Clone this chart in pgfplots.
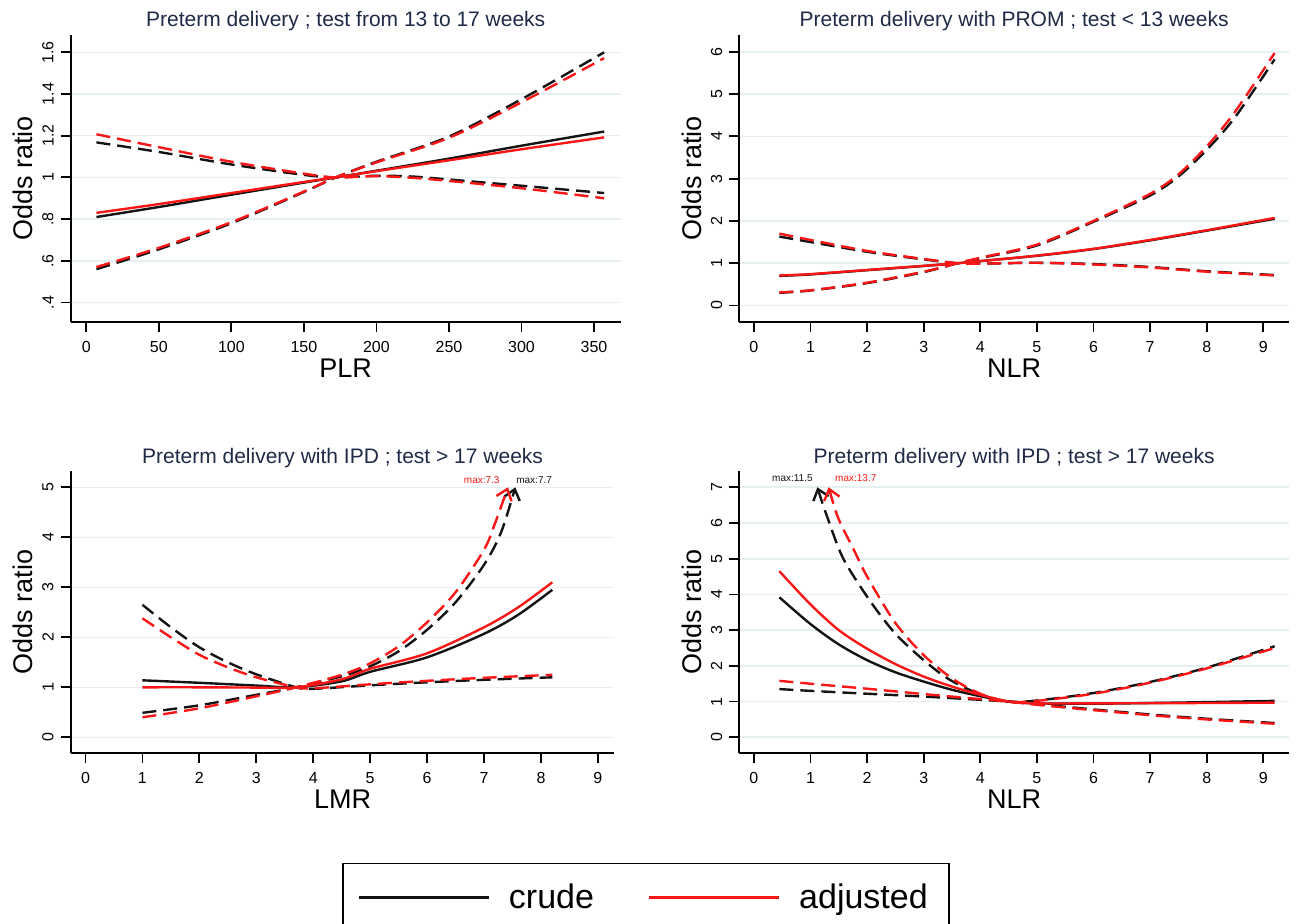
\documentclass[border=0pt]{standalone}
\usepackage{fontspec}
\setmainfont{Liberation Sans}
\usepackage{pgfplots}
\pgfplotsset{compat=1.18}
\usetikzlibrary{arrows.meta}

\definecolor{cblack}{RGB}{20,20,20}
\definecolor{cred}{RGB}{250,22,22}
\definecolor{gridc}{RGB}{230,239,241}
\definecolor{titlec}{RGB}{30,42,70}

\pgfplotsset{
  orpanel/.style={
    scale only axis,
    anchor=south west,
    axis lines=left,
    axis line style={-, line width=0.9pt, black},
    tick align=outside,
    major tick length=5pt,
    tick style={line width=0.9pt, black},
    ymajorgrids,
    grid style={gridc, line width=0.8pt},
    tick label style={font=\fontsize{8}{9.6}\selectfont},
    /pgf/number format/assume math mode=true,
    yticklabel style={rotate=90, anchor=south},
    xticklabel style={anchor=north, yshift=-1pt},
    title style={font=\fontsize{10.5}{12.6}\selectfont, text=titlec, at={(0.5,1)}, anchor=base, yshift=-2pt},
    every axis x label/.style={at={(axis description cs:0.5,0)}, anchor=base, yshift=-27.5pt, font=\fontsize{13.5}{16}\selectfont},
    every axis y label/.style={at={([xshift=-19pt]axis description cs:0,0.5)}, anchor=base, rotate=90, font=\fontsize{13.5}{16}\selectfont},
    ylabel={Odds ratio},
    clip=false,
  },
  crudeline/.style={cblack, line width=1.2pt, smooth, forget plot},
  adjline/.style={cred, line width=1.2pt, smooth, forget plot},
  ci/.style={dash pattern=on 7pt off 3.5pt},
}

\begin{document}
\begin{tikzpicture}
\useasboundingbox (0,0) rectangle (649.5pt,461.5pt);

% top left: PLR
\begin{axis}[orpanel, at={(35.35pt,300.35pt)}, width=275pt, height=143.65pt,
  xmin=-10.75, xmax=368.4, ymin=0.305, ymax=1.683,
  xtick={0,50,100,150,200,250,300,350},
  ytick={0.4,0.6,0.8,1,1.2,1.4,1.6}, yticklabels={.4,.6,.8,1,1.2,1.4,1.6},
  title={Preterm delivery ; test from 13 to 17 weeks}, xlabel={PLR}]
  \addplot[crudeline] coordinates {(7,0.81) (50,0.858) (100,0.917) (150,0.975) (172,1.0) (200,1.032) (250,1.09) (300,1.152) (357,1.22)};
  \addplot[crudeline, ci] coordinates {(7,1.168) (50,1.122) (100,1.062) (150,1.012) (172,1.0) (200,1.008) (225,1.004) (250,0.99) (300,0.96) (357,0.925)};
  \addplot[crudeline, ci] coordinates {(7,0.56) (50,0.655) (100,0.78) (150,0.93) (172,1.0) (200,1.075) (250,1.196) (300,1.375) (357,1.60)};
  \addplot[adjline] coordinates {(7,0.83) (50,0.872) (100,0.925) (150,0.978) (172,1.0) (200,1.03) (250,1.082) (300,1.135) (357,1.192)};
  \addplot[adjline, ci] coordinates {(7,1.207) (50,1.145) (100,1.075) (150,1.018) (172,1.0) (200,1.006) (225,0.998) (250,0.983) (300,0.948) (357,0.90)};
  \addplot[adjline, ci] coordinates {(7,0.57) (50,0.662) (100,0.785) (150,0.932) (172,1.0) (200,1.072) (250,1.19) (300,1.36) (357,1.572)};
\end{axis}

% top right: NLR
\begin{axis}[orpanel, at={(369.65pt,300.35pt)}, width=274.85pt, height=143.65pt,
  xmin=-0.258, xmax=9.454, ymin=-0.397, ymax=6.395,
  xtick={0,1,2,3,4,5,6,7,8,9}, ytick={0,1,2,3,4,5,6},
  title={Preterm delivery with PROM ; test < 13 weeks}, xlabel={NLR}]
  \addplot[crudeline] coordinates {(0.45,0.70) (1,0.735) (2,0.835) (3,0.935) (3.6,1.0) (4,1.05) (5,1.175) (6,1.335) (7,1.54) (8,1.77) (9.2,2.05)};
  \addplot[crudeline, ci] coordinates {(0.45,1.63) (1,1.50) (2,1.27) (3,1.09) (3.6,1.0) (4,0.99) (5,1.01) (6,0.98) (7,0.91) (8,0.81) (9.2,0.72)};
  \addplot[crudeline, ci] coordinates {(0.45,0.30) (1,0.355) (2,0.53) (3,0.79) (3.6,1.0) (4,1.12) (5,1.42) (6,1.98) (7,2.6) (7.5,3.05) (8,3.68) (8.5,4.45) (9.2,5.82)};
  \addplot[adjline] coordinates {(0.45,0.71) (1,0.742) (2,0.84) (3,0.938) (3.6,1.0) (4,1.05) (5,1.18) (6,1.34) (7,1.55) (8,1.78) (9.2,2.07)};
  \addplot[adjline, ci] coordinates {(0.45,1.70) (1,1.55) (2,1.29) (3,1.10) (3.6,1.0) (4,0.99) (5,1.01) (6,0.97) (7,0.90) (8,0.80) (9.2,0.71)};
  \addplot[adjline, ci] coordinates {(0.45,0.31) (1,0.36) (2,0.54) (3,0.80) (3.6,1.0) (4,1.13) (5,1.44) (6,2.0) (7,2.64) (7.5,3.1) (8,3.76) (8.5,4.58) (9.2,5.97)};
\end{axis}

% bottom left: LMR
\begin{axis}[orpanel, at={(35.35pt,85pt)}, width=271.85pt, height=141pt,
  xmin=-0.26, xmax=9.29, ymin=-0.314, ymax=5.326,
  xtick={0,1,2,3,4,5,6,7,8,9}, ytick={0,1,2,3,4,5},
  title={Preterm delivery with IPD ; test > 17 weeks}, xlabel={LMR},
  legend columns=2,
  legend style={at={(0.499,-0.390)}, anchor=north west, draw=black, line width=0.75pt,
    font=\fontsize{17}{20}\selectfont, inner xsep=7.5pt, inner ysep=8pt,
    column sep=0pt, nodes={inner xsep=0pt}},
  legend image code/.code={\path[draw=none] (0pt,0pt) -- (75pt,0pt); \draw[#1] (0pt,0pt) -- (65pt,0pt);}]
  \addplot[crudeline] coordinates {(1,1.14) (2,1.09) (3,1.035) (3.7,1.0) (4.5,1.12) (5,1.31) (6,1.6) (7,2.07) (7.6,2.45) (8.2,2.95)};
  \addplot[crudeline, ci] coordinates {(1,2.65) (1.5,2.2) (2,1.8) (2.5,1.5) (3,1.26) (3.7,1.0) (4,0.97) (5,1.04) (6,1.1) (7,1.15) (8.2,1.20)};
  \addplot[crudeline, ci, -{Straight Barb[length=5pt,width=8pt]}] coordinates {(1,0.49) (2,0.64) (3,0.85) (3.7,1.0) (4.5,1.22) (5,1.42) (5.5,1.72) (6,2.15) (6.5,2.7) (7,3.45) (7.3,4.1) (7.55,5.0)};
  \addplot[adjline] coordinates {(1,1.0) (2,1.0) (3,0.995) (3.7,1.0) (4.5,1.16) (5,1.37) (6,1.68) (7,2.2) (7.6,2.6) (8.2,3.10)};
  \addplot[adjline, ci] coordinates {(1,2.38) (1.5,2.0) (2,1.65) (2.5,1.4) (3,1.2) (3.7,1.0) (4,0.98) (5,1.06) (6,1.13) (7,1.19) (8.2,1.25)};
  \addplot[adjline, ci, -{Straight Barb[length=5pt,width=8pt]}] coordinates {(1,0.40) (2,0.58) (3,0.82) (3.7,1.0) (4.5,1.25) (5,1.48) (5.5,1.82) (6,2.3) (6.5,2.9) (7,3.75) (7.2,4.3) (7.42,5.0)};
  \node[font=\fontsize{5}{6}\selectfont, text=cred] at (axis cs:6.96,5.14) {max:7.3};
  \node[font=\fontsize{5}{6}\selectfont, text=cblack] at (axis cs:7.88,5.14) {max:7.7};
  \addlegendimage{cblack, line width=1.2pt}
  \addlegendentry{crude\hspace*{27pt}}
  \addlegendimage{cred, line width=1.2pt}
  \addlegendentry{adjusted\hspace*{3pt}}
\end{axis}

% bottom right: NLR
\begin{axis}[orpanel, at={(369.65pt,85pt)}, width=274.85pt, height=141pt,
  xmin=-0.258, xmax=9.454, ymin=-0.44, ymax=7.456,
  xtick={0,1,2,3,4,5,6,7,8,9}, ytick={0,1,2,3,4,5,6,7},
  title={Preterm delivery with IPD ; test > 17 weeks}, xlabel={NLR}]
  \addplot[crudeline] coordinates {(0.45,3.92) (1,3.17) (1.5,2.6) (2,2.16) (2.5,1.82) (3,1.56) (3.5,1.33) (4,1.15) (4.5,1.0) (5,0.95) (6,0.94) (7,0.96) (8,0.985) (9.2,1.02)};
  \addplot[crudeline, ci, {Straight Barb[length=5pt,width=8pt]}-] coordinates {(1.12,7.0) (1.3,6.15) (1.58,5.0) (2.06,3.8) (2.5,2.9) (3,2.16) (3.45,1.62) (4,1.2) (4.5,1.0) (5,1.03) (6,1.24) (7,1.55) (8,1.95) (9.2,2.55)};
  \addplot[crudeline, ci] coordinates {(0.45,1.35) (1,1.3) (2,1.22) (3,1.14) (4,1.05) (4.5,1.0) (5,0.93) (6,0.78) (7,0.64) (8,0.52) (9.2,0.40)};
  \addplot[adjline] coordinates {(0.45,4.65) (1,3.72) (1.5,3.0) (2,2.48) (2.5,2.05) (3,1.70) (3.5,1.42) (4,1.19) (4.5,1.0) (5,0.95) (6,0.95) (7,0.955) (8,0.96) (9.2,0.97)};
  \addplot[adjline, ci, {Straight Barb[length=5pt,width=8pt]}-] coordinates {(1.32,7.0) (1.5,6.1) (1.75,5.3) (2,4.5) (2.5,3.2) (3,2.3) (3.5,1.65) (4,1.22) (4.5,1.0) (5,1.02) (6,1.22) (7,1.53) (8,1.93) (9.2,2.5)};
  \addplot[adjline, ci] coordinates {(0.45,1.58) (1,1.5) (2,1.36) (3,1.21) (4,1.07) (4.5,1.0) (5,0.91) (6,0.76) (7,0.62) (8,0.5) (9.2,0.38)};
  \node[font=\fontsize{5}{6}\selectfont, text=cblack] at (axis cs:0.68,7.25) {max:11.5};
  \node[font=\fontsize{5}{6}\selectfont, text=cred] at (axis cs:1.80,7.25) {max:13.7};
\end{axis}
\end{tikzpicture}
\end{document}
